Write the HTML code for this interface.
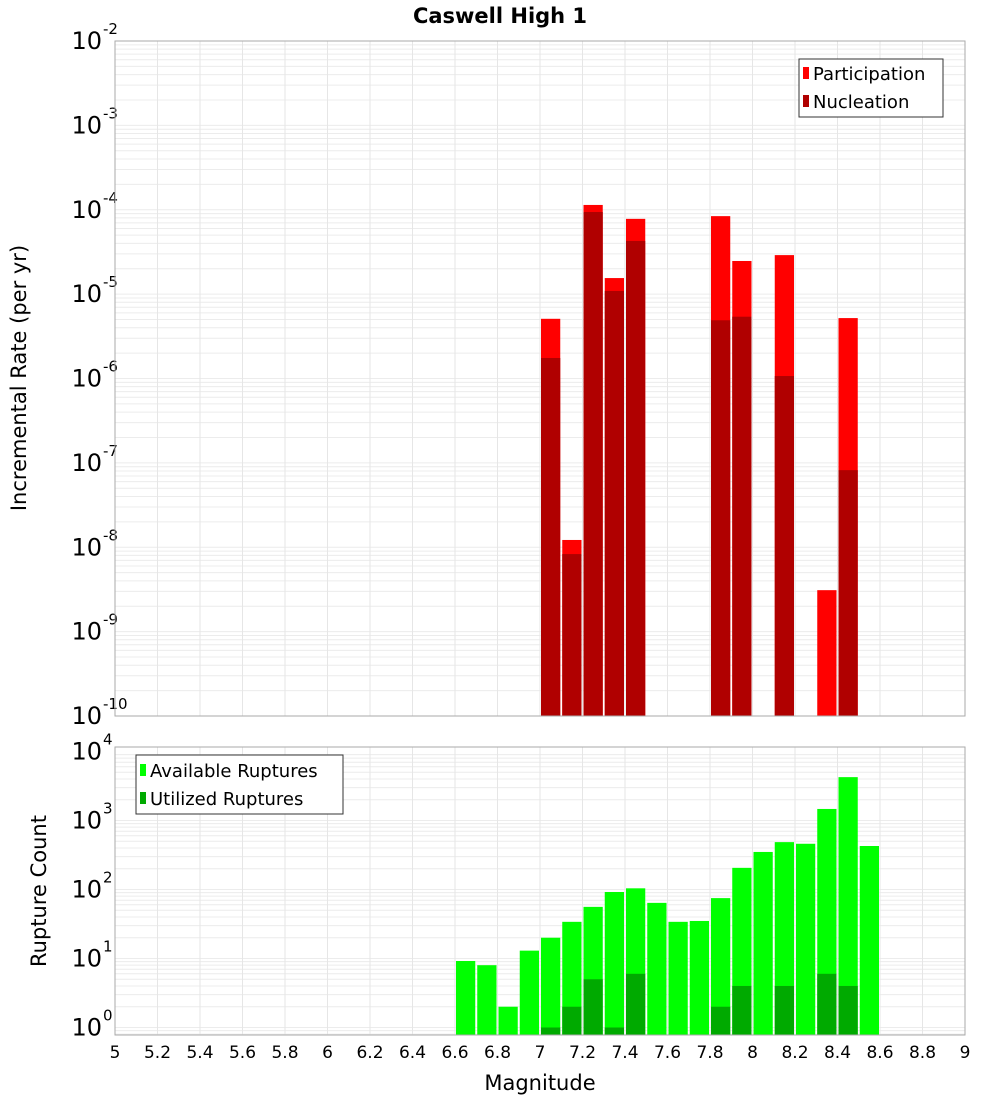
<!DOCTYPE html>
<html><head><meta charset="utf-8"><style>
body{margin:0;background:#fff;width:1000px;height:1100px;overflow:hidden}
svg text{font-family:"DejaVu Sans","Liberation Sans",sans-serif}
</style></head><body>
<svg id="chart" width="1000" height="1100" xmlns="http://www.w3.org/2000/svg">
<text x="500" y="23" text-anchor="middle" font-size="21" font-weight="bold">Caswell High 1</text>
<g id="top"></g>
<g id="bot"></g>
<text transform="translate(26,378) rotate(-90)" text-anchor="middle" font-size="21">Incremental Rate (per yr)</text>
<text transform="translate(46,891) rotate(-90)" text-anchor="middle" font-size="21">Rupture Count</text>
<text x="540" y="1090" text-anchor="middle" font-size="21">Magnitude</text>
<g>
<rect x="799" y="59" width="144" height="58" fill="#fff" stroke="#333" stroke-width="1"/>
<rect x="803" y="67" width="6" height="12" fill="#ff0000"/>
<text x="813" y="80" font-size="18">Participation</text>
<rect x="803" y="95" width="6" height="12" fill="#b00000"/>
<text x="813" y="108" font-size="18">Nucleation</text>
</g>
<g>
<rect x="136" y="755" width="207" height="59" fill="#fff" stroke="#333" stroke-width="1"/>
<rect x="140" y="764" width="6" height="12" fill="#00ff00"/>
<text x="150" y="777" font-size="18">Available Ruptures</text>
<rect x="140" y="792" width="6" height="12" fill="#00aa00"/>
<text x="150" y="805" font-size="18">Utilized Ruptures</text>
</g>
</svg>
<script>
const rateMags=[7.05,7.15,7.25,7.35,7.45,7.85,7.95,8.15,8.35,8.45];
const participation=[5.1e-6,1.22e-8,1.14e-4,1.55e-5,7.8e-5,8.4e-5,2.47e-5,2.9e-5,3.1e-9,5.2e-6];
const nucleation=[1.75e-6,8.3e-9,9.4e-5,1.09e-5,4.27e-5,4.9e-6,5.4e-6,1.07e-6,0,8.2e-8];
const countMags=[6.65,6.75,6.85,6.95,7.05,7.15,7.25,7.35,7.45,7.55,7.65,7.75,7.85,7.95,8.05,8.15,8.25,8.35,8.45,8.55];
const available=[9.2,8,2,13,20,34,56,92,104,64,34,35,75,206,350,486,460,1470,4250,427];
const utilized=[0,0,0,0,1,2,5,1,6,0,0,0,2,4,0,4,0,6,4,0];
const xTicks=["5","5.2","5.4","5.6","5.8","6","6.2","6.4","6.6","6.8","7","7.2","7.4","7.6","7.8","8","8.2","8.4","8.6","8.8","9"];
const topExps=[-2,-3,-4,-5,-6,-7,-8,-9,-10];
const botExps=[0,1,2,3,4];

const NS="http://www.w3.org/2000/svg";
const X0=115,X1=965;
const xs=m=>X0+(m-5)/4*(X1-X0);
const yTop=v=>41+(-2-Math.log10(v))*84.375;
const yBot=v=>1027.5-Math.log10(v)*69;
function mk(p,tag,a){const e=document.createElementNS(NS,tag);for(const k in a)e.setAttribute(k,a[k]);p.appendChild(e);return e;}
function panel(g,yT,yB,ys,lo,hi,exps){
  mk(g,'rect',{x:X0,y:yT,width:X1-X0,height:yB-yT,fill:'#fff'});
  for(let d=lo;d<hi;d++)for(let k=1;k<10;k++){const y=ys(k*Math.pow(10,d));if(y<yT||y>yB)continue;
    const l=mk(g,'line',{x1:X0,x2:X1,y1:y,y2:y,stroke:'#ececec','stroke-width':1});
    
    }
  xTicks.forEach(t=>{const x=xs(+t);const l=mk(g,'line',{x1:x,x2:x,y1:yT,y2:yB,stroke:'#e6e6e6','stroke-width':1});
    
    });
  exps.forEach(e=>{const y=ys(Math.pow(10,e));const t=mk(g,'text',{x:102,y:y+8,'text-anchor':'end','font-size':24});
    
    
    t.textContent='10';
    const s=mk(g,'text',{x:103,y:y-7,'font-size':15});
    
    
    s.textContent=String(e);});
}
function bars(g,mags,vals,ys,yB,col,name){
  mags.forEach((m,i)=>{const v=vals[i];if(!(v>0))return;const y=Math.max(ys(v),0);
    const x1=xs(m-0.05)+1,x2=xs(m+0.05)-1;
    const r=mk(g,'rect',{x:x1,y:y,width:x2-x1,height:yB-y,fill:col});
    
    });
}
const gTop=document.getElementById('top'),gBot=document.getElementById('bot');
panel(gTop,41,716,yTop,-10,-2,topExps);
bars(gTop,rateMags,participation,yTop,716,'#ff0000','participation-bar');
bars(gTop,rateMags,nucleation,yTop,716,'#b00000','nucleation-bar');
mk(gTop,'rect',{x:X0,y:41,width:X1-X0,height:675,fill:'none',stroke:'#aaa'});
panel(gBot,747,1035,yBot,-1,4,botExps);
bars(gBot,countMags,available,yBot,1035,'#00ff00','available-bar');
bars(gBot,countMags,utilized,yBot,1035,'#00aa00','utilized-bar');
mk(gBot,'rect',{x:X0,y:747,width:X1-X0,height:288,fill:'none',stroke:'#aaa'});
xTicks.forEach(t=>{const x=xs(+t);const e=mk(gBot,'text',{x:x,y:1058,'text-anchor':'middle','font-size':17});
  
  
  e.textContent=t;});
</script>
</body></html>
